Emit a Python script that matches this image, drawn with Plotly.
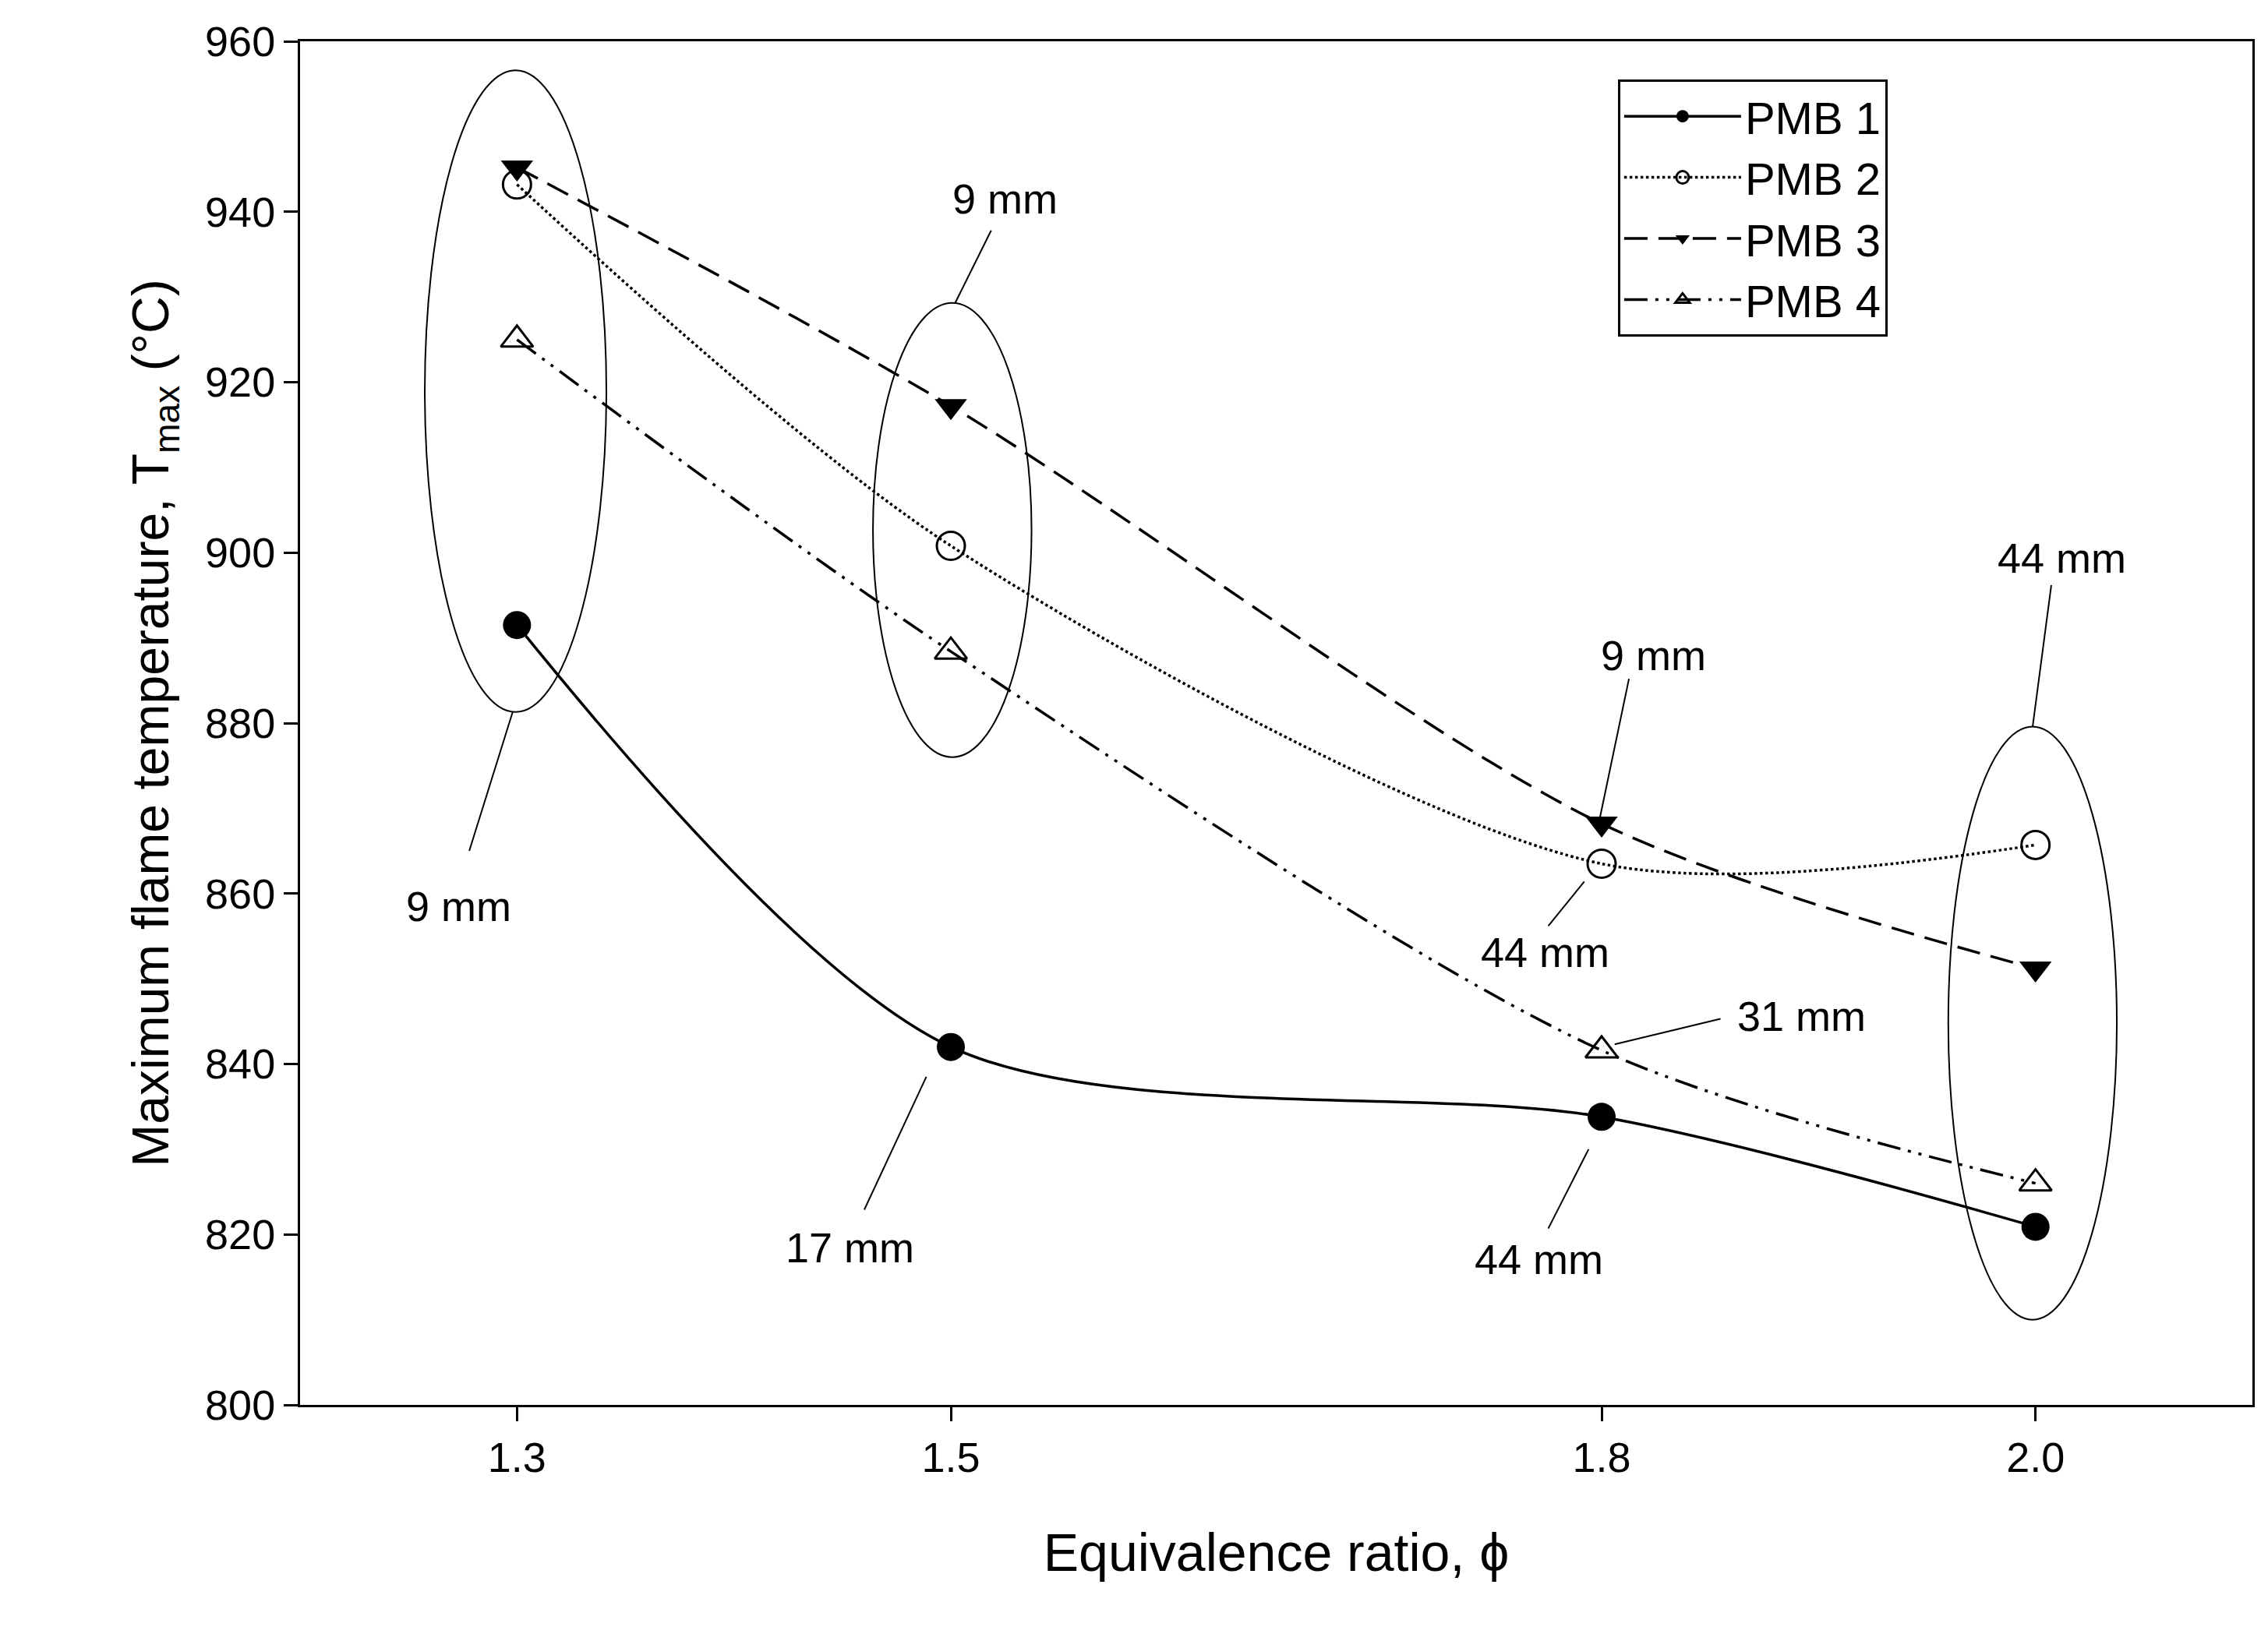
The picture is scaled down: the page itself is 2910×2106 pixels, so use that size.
import plotly.graph_objects as go

phi = [1.3, 1.5, 1.8, 2.0]
pmb1 = [891.5, 842.0, 833.8, 820.9]
pmb2 = [943.2, 900.8, 863.5, 865.7]
pmb3 = [945.2, 917.2, 868.2, 851.2]
pmb4 = [925.0, 888.4, 841.6, 826.0]
x_ticks = [1.3, 1.5, 1.8, 2.0]
x_tick_labels = ["1.3", "1.5", "1.8", "2.0"]
y_ticks = [800, 820, 840, 860, 880, 900, 920, 940, 960]

# annotations: text, text x/y, line start x/y, line end x/y
labels = [
    ("9 mm", 1.273, 858.5, 1.278, 865.0, 1.298, 881.3),
    ("9 mm", 1.525, 941.5, 1.5186, 937.8, 1.502, 929.3),
    ("9 mm", 1.824, 888.0, 1.8126, 885.2, 1.7993, 869.0),
    ("44 mm", 1.774, 853.1, 1.7754, 856.2, 1.792, 861.4),
    ("31 mm", 1.892, 845.6, 1.8548, 845.3, 1.806, 842.3),
    ("44 mm", 1.771, 817.1, 1.7754, 820.7, 1.794, 830.0),
    ("17 mm", 1.4535, 818.5, 1.4601, 822.9, 1.4887, 838.5),
    ("44 mm", 2.012, 899.4, 2.0073, 896.2, 1.9987, 879.6),
]
ellipses = [
    (1.2575, 1.3412, 881.3, 956.6),
    (1.4641, 1.5372, 876.0, 929.3),
    (1.9598, 2.0375, 810.0, 879.6),
]

fig = go.Figure()
lw = 3.5
ms = 36
sm = 0.85
fig.add_trace(go.Scatter(x=phi, y=pmb1, name="PMB 1", mode="lines+markers", line_shape="spline",
    line=dict(color="black", width=lw, dash="solid", smoothing=sm),
    marker=dict(symbol="circle", size=ms, color="black")))
fig.add_trace(go.Scatter(x=phi, y=pmb2, name="PMB 2", mode="lines+markers", line_shape="spline",
    line=dict(color="black", width=lw, dash="dot", smoothing=sm),
    marker=dict(symbol="circle-open", size=ms, color="black", line=dict(width=3))))
fig.add_trace(go.Scatter(x=phi, y=pmb3, name="PMB 3", mode="lines+markers", line_shape="spline",
    line=dict(color="black", width=lw, dash="30px,14px", smoothing=sm),
    marker=dict(symbol="triangle-down", size=ms, color="black")))
fig.add_trace(go.Scatter(x=phi, y=pmb4, name="PMB 4", mode="lines+markers", line_shape="spline",
    line=dict(color="black", width=lw, dash="30px,10px,4px,10px,4px,10px", smoothing=sm),
    marker=dict(symbol="triangle-up-open", size=ms, color="black", line=dict(width=3))))

for x0, x1, y0, y1 in ellipses:
    fig.add_shape(type="circle", xref="x", yref="y", x0=x0, x1=x1, y0=y0, y1=y1,
                  line=dict(color="black", width=2))
for t, tx, ty, lx0, ly0, lx1, ly1 in labels:
    fig.add_shape(type="line", xref="x", yref="y", x0=lx0, y0=ly0, x1=lx1, y1=ly1,
                  line=dict(color="black", width=2))
    fig.add_annotation(x=tx, y=ty, text=t, showarrow=False, font=dict(size=54, color="black"))

axis_common = dict(showline=True, linecolor="black", linewidth=3, mirror=True, ticks="outside",
                   ticklen=18, tickwidth=3, tickcolor="black", showgrid=False, zeroline=False,
                   tickfont=dict(size=54, color="black"))
fig.update_xaxes(range=[1.2, 2.1], tickvals=x_ticks, ticktext=x_tick_labels,
                 title=dict(text="Equivalence ratio, ϕ", font=dict(size=68, color="black"), standoff=70),
                 **axis_common)
fig.update_yaxes(range=[800, 960], tickvals=y_ticks,
                 title=dict(text="Maximum flame temperature, T<sub>max</sub> (°C)", font=dict(size=66, color="black"), standoff=25),
                 **axis_common)
fig.update_layout(
    width=2910, height=2106, plot_bgcolor="white", paper_bgcolor="white",
    font=dict(family="Arial, Liberation Sans, sans-serif", color="black"),
    margin=dict(l=377, r=28, t=45, b=311),
    legend=dict(x=0.675, y=0.972, xanchor="left", yanchor="top", bordercolor="black", borderwidth=3,
                bgcolor="white", font=dict(size=58), itemwidth=150, tracegroupgap=20),
)
fig.write_html("out.html")
